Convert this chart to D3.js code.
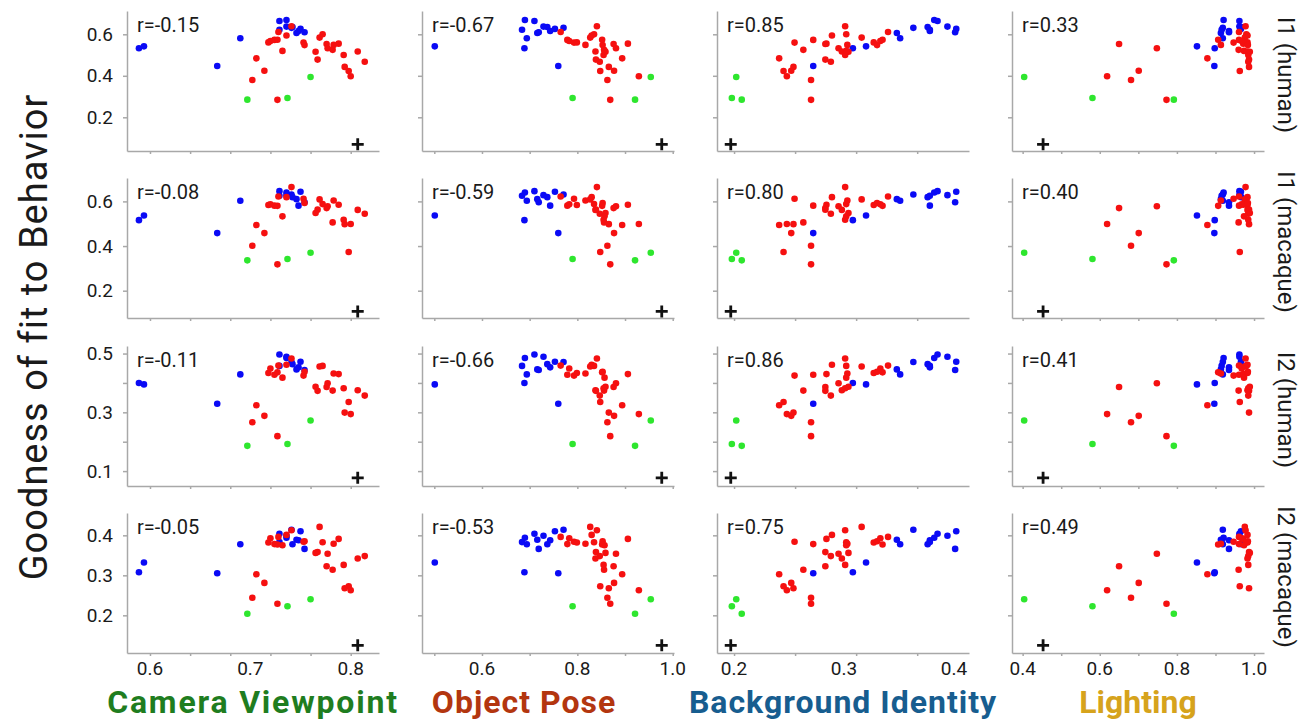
<!DOCTYPE html>
<meta charset="utf-8">
<style>
body { margin: 0; background: #fff; }
svg { font-family: Roboto, "Liberation Sans", sans-serif; }
.axis path, .axis line { stroke: #a8a8a8; stroke-width: 1.5; }
.axis text { font-size: 19px; fill: #1a1a1a; font-family: Roboto, sans-serif; }
.rval { font-size: 20px; fill: #1a1a1a; }
</style>
<svg width="1304" height="723"></svg>
<script src="https://d3js.org/d3.v7.min.js"></script>
<script>

var columns = ["Camera Viewpoint", "Object Pose", "Background Identity", "Lighting"];
var rowNames = ["I1 (human)", "I1 (macaque)", "I2 (human)", "I2 (macaque)"];
var columnColors = ["#1f7d1f", "#b3360f", "#175d8f", "#d6a31c"];

// correlation printed in each panel, one array per row
var rI1Human   = ["-0.15", "-0.67", "0.85", "0.33"];
var rI1Macaque = ["-0.08", "-0.59", "0.80", "0.40"];
var rI2Human   = ["-0.11", "-0.66", "0.86", "0.41"];
var rI2Macaque = ["-0.05", "-0.53", "0.75", "0.49"];

// one entry per model: 3 green, 14 blue, 29 red
var group = ["g","g","g",
  "b","b","b","b","b","b","b","b","b","b","b","b","b","b",
  "r","r","r","r","r","r","r","r","r","r","r","r","r","r","r",
  "r","r","r","r","r","r","r","r","r","r","r","r","r","r"];

// x values (one property per column)
var viewpointX = [0.737, 0.760, 0.697,
  0.667, 0.589, 0.594, 0.746, 0.690, 0.741, 0.742, 0.748, 0.736, 0.729, 0.736, 0.750, 0.754, 0.729,
  0.706, 0.798, 0.800, 0.714, 0.794, 0.753, 0.782, 0.702, 0.727, 0.724, 0.776, 0.788, 0.767, 0.814, 0.736,
  0.777, 0.807, 0.793, 0.741, 0.772, 0.783, 0.765, 0.732, 0.769, 0.718, 0.754, 0.720, 0.727, 0.728];
var poseX = [0.790, 0.954, 0.921,
  0.760, 0.689, 0.501, 0.716, 0.694, 0.771, 0.737, 0.743, 0.690, 0.710, 0.729, 0.753, 0.719, 0.684,
  0.894, 0.848, 0.929, 0.877, 0.866, 0.793, 0.856, 0.863, 0.869, 0.779, 0.876, 0.906, 0.839, 0.847, 0.830,
  0.881, 0.838, 0.855, 0.841, 0.835, 0.817, 0.859, 0.857, 0.827, 0.799, 0.853, 0.783, 0.852, 0.765];
var backgroundX = [0.198, 0.202, 0.207,
  0.272, 0.308, 0.320, 0.348, 0.351, 0.363, 0.376, 0.378, 0.382, 0.385, 0.394, 0.402, 0.401, 0.378,
  0.241, 0.245, 0.248, 0.252, 0.254, 0.255, 0.263, 0.270, 0.270, 0.272, 0.283, 0.284, 0.283, 0.288, 0.289,
  0.295, 0.298, 0.301, 0.301, 0.302, 0.303, 0.304, 0.302, 0.316, 0.327, 0.330, 0.333, 0.335, 0.340];
var lightingX = [0.581, 0.404, 0.792,
  0.897, 0.898, 0.852, 0.914, 0.919, 0.919, 0.967, 0.935, 0.921, 0.962, 0.962, 0.966, 0.935, 0.916,
  0.879, 0.963, 0.619, 0.701, 0.987, 0.947, 0.960, 0.681, 0.773, 0.961, 0.650, 0.972, 0.987, 0.985, 0.983,
  0.748, 0.983, 0.985, 0.978, 0.980, 0.914, 0.989, 0.974, 0.976, 0.983, 0.984, 0.968, 0.907, 0.961];

// goodness of fit (one metric per row)
var i1HumanY = [0.293, 0.394, 0.285,
  0.447, 0.533, 0.542, 0.606, 0.581, 0.631, 0.635, 0.616, 0.669, 0.664, 0.637, 0.626, 0.610, 0.622,
  0.484, 0.423, 0.398, 0.424, 0.443, 0.560, 0.525, 0.380, 0.284, 0.573, 0.553, 0.555, 0.478, 0.468, 0.594,
  0.533, 0.517, 0.500, 0.639, 0.600, 0.549, 0.516, 0.520, 0.584, 0.561, 0.548, 0.568, 0.574, 0.611];
var i1MacaqueY = [0.342, 0.370, 0.336,
  0.458, 0.516, 0.537, 0.610, 0.603, 0.631, 0.619, 0.581, 0.640, 0.646, 0.628, 0.643, 0.596, 0.625,
  0.494, 0.373, 0.499, 0.458, 0.498, 0.612, 0.506, 0.401, 0.318, 0.581, 0.570, 0.585, 0.563, 0.545, 0.619,
  0.578, 0.562, 0.518, 0.664, 0.588, 0.604, 0.548, 0.533, 0.609, 0.584, 0.593, 0.587, 0.580, 0.622];
var i2HumanY = [0.192, 0.272, 0.186,
  0.329, 0.400, 0.395, 0.446, 0.429, 0.471, 0.464, 0.453, 0.485, 0.497, 0.489, 0.472, 0.444, 0.458,
  0.324, 0.335, 0.294, 0.288, 0.299, 0.425, 0.374, 0.266, 0.219, 0.428, 0.386, 0.430, 0.373, 0.357, 0.462,
  0.399, 0.375, 0.382, 0.483, 0.458, 0.432, 0.387, 0.418, 0.456, 0.434, 0.438, 0.449, 0.436, 0.459];
var i2MacaqueY = [0.2225, 0.240, 0.204,
  0.305, 0.3075, 0.332, 0.389, 0.3775, 0.414, 0.3775, 0.3875, 0.394, 0.404, 0.399, 0.410, 0.366, 0.383,
  0.3025, 0.2725, 0.2625, 0.281, 0.2675, 0.384, 0.314, 0.244, 0.229, 0.378, 0.3225, 0.391, 0.358, 0.348, 0.401,
  0.354, 0.342, 0.326, 0.4125, 0.3825, 0.379, 0.356, 0.375, 0.421, 0.382, 0.385, 0.3925, 0.377, 0.396];

// the "+" reference marker
var refX = [0.807, 0.977, 0.197, 0.453];
var refY = [0.070, 0.107, 0.077, 0.125];

// axis ticks and labels
var xTicks = [[0.6, 0.64, 0.68, 0.72, 0.76, 0.8],
              [0.5, 0.6, 0.7, 0.8, 0.9, 1.0],
              [0.2, 0.2555, 0.311, 0.3665],
              [0.4, 0.5, 0.6, 0.7, 0.8, 0.9, 1.0]];
var xLabels = [[0.6, 0.7, 0.8], [0.6, 0.8, 1.0], [0.2, 0.3, 0.4], [0.4, 0.6, 0.8, 1.0]];
var yTicks = [[0.2, 0.4, 0.6], [0.2, 0.4, 0.6], [0.1, 0.2, 0.3, 0.4, 0.5], [0.2, 0.3, 0.4]];
var yLabels = [[0.2, 0.4, 0.6], [0.2, 0.4, 0.6], [0.1, 0.3, 0.5], [0.2, 0.3, 0.4]];

var xCols = [viewpointX, poseX, backgroundX, lightingX];
var yRows = [i1HumanY, i1MacaqueY, i2HumanY, i2MacaqueY];
var rRows = [rI1Human, rI1Macaque, rI2Human, rI2Macaque];

var svg = d3.select("svg");

var panelLeft = [127, 422, 717, 1012],
    panelTop = [11, 178, 346, 513],
    panelW = 252, panelH = 140;

var xDomains = [[0.5771, 0.8282], [0.4742, 1.0027], [0.1845, 0.4136], [0.3724, 1.0258]];
var yDomains = [[0.0376, 0.7123], [0.0777, 0.7048], [0.0493, 0.5257], [0.1058, 0.4558]];

var colorOf = {g: "#2ee62e", b: "#0a0af5", r: "#f51010"};
var fmt = d3.format(".1f");

// draw blue first, then red, green on top
var order = d3.range(group.length).sort(function(a, b) {
  var rank = {b: 0, r: 1, g: 2};
  return rank[group[a]] - rank[group[b]];
});

rowNames.forEach(function(rowName, r) {
  columns.forEach(function(colName, c) {
    var x = d3.scaleLinear().domain(xDomains[c]).range([0, panelW]);
    var y = d3.scaleLinear().domain(yDomains[r]).range([panelH, 0]);

    var g = svg.append("g")
        .attr("transform", "translate(" + panelLeft[c] + "," + panelTop[r] + ")");

    g.append("g")
        .attr("class", "axis")
        .attr("transform", "translate(0," + panelH + ")")
        .call(d3.axisBottom(x).tickValues(xTicks[c]).tickSize(3).tickSizeOuter(0).tickFormat(""));

    g.append("g")
        .attr("class", "axis")
        .call(d3.axisLeft(y).tickValues(yTicks[r]).tickSize(4).tickSizeOuter(0).tickPadding(10)
          .tickFormat(function(v) {
            if (c > 0) return "";
            return yLabels[r].indexOf(v) >= 0 ? fmt(v) : "";
          }));

    if (r == 3) {
      g.selectAll(".xlab")
        .data(xLabels[c])
        .enter().append("text")
          .attr("class", "xlab")
          .attr("x", function(v) { return x(v); })
          .attr("y", panelH + 9)
          .attr("dy", "0.71em")
          .attr("text-anchor", "middle")
          .style("font-size", "19px")
          .style("fill", "#1a1a1a")
          .text(fmt);
    }

    g.selectAll(".dot")
      .data(order)
      .enter().append("circle")
        .attr("class", "dot")
        .attr("cx", function(i) { return x(xCols[c][i]); })
        .attr("cy", function(i) { return y(yRows[r][i]); })
        .attr("r", 3.3)
        .attr("fill", function(i) { return colorOf[group[i]]; });

    var px = x(refX[c]), py = y(refY[r]);
    g.append("path")
        .attr("d", "M" + (px - 6) + "," + py + "H" + (px + 6) + "M" + px + "," + (py - 6) + "V" + (py + 6))
        .attr("stroke", "#111")
        .attr("stroke-width", 2.8);

    g.append("text")
        .attr("class", "rval")
        .attr("x", 10)
        .attr("y", 21)
        .text("r=" + rRows[r][c]);
  });

  svg.append("text")
      .attr("transform", "translate(1286," + (panelTop[r] + panelH / 2 - 6) + ") rotate(90)")
      .attr("text-anchor", "middle")
      .attr("dy", "0.35em")
      .style("font-size", "24px")
      .style("fill", "#1a1a1a")
      .text(rowName);
});

svg.append("text")
    .attr("transform", "translate(34,337) rotate(-90)")
    .attr("text-anchor", "middle")
    .attr("dy", "0.35em")
    .style("font-size", "38px")
    .style("letter-spacing", "1px")
    .style("fill", "#1a1a1a")
    .text("Goodness of fit to Behavior");

var titleShift = [0, -24, 0, 0];
var titleSpacing = [1.8, 1, 1, 0];
columns.forEach(function(name, c) {
  svg.append("text")
      .attr("x", panelLeft[c] + panelW / 2 + titleShift[c])
      .attr("y", 713)
      .attr("text-anchor", "middle")
      .style("font-size", "32px")
      .style("font-weight", "bold")
      .style("letter-spacing", titleSpacing[c] + "px")
      .style("fill", columnColors[c])
      .text(name);
});

</script>
